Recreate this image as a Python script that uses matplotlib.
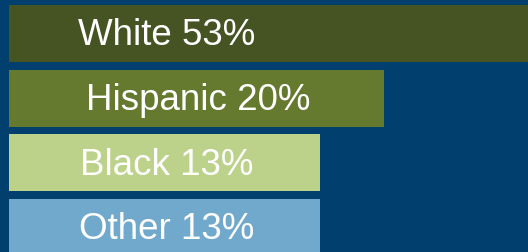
import matplotlib
matplotlib.use("Agg")
import matplotlib.pyplot as plt

categories = ["White", "Hispanic", "Black", "Other"]
shares = [53, 20, 13, 13]
colors = ["#465323", "#667A2F", "#BCD189", "#71A9CD"]

bg = "#003F6E"
base = -21  # bars start left of zero so short bars still hold their label
xmax = 35.78

fig = plt.figure(figsize=(5.28, 2.53), dpi=100)
fig.patch.set_facecolor(bg)
ax = fig.add_axes([0, 0, 1, 1])
ax.set_facecolor(bg)

ypos = list(range(len(categories)))
ax.barh(ypos, [v - base for v in shares], left=base, height=0.88, color=colors)

ax.set_xlim(-21.98, xmax)
ax.set_ylim(3.377, -0.533)
ax.axis("off")

for y, cat, v in zip(ypos, categories, shares):
    # bars running off the chart get their label where the short ones have it
    end = v if v < xmax else min(shares)
    cx = (base + end) / 2 + 0.2
    ax.text(cx, y + 0.02, f"{cat} {v}%", color="white", fontsize=26.5,
            family=["Liberation Sans", "DejaVu Sans"], ha="center", va="center")

fig.savefig("out.png", dpi=100, facecolor=bg)
